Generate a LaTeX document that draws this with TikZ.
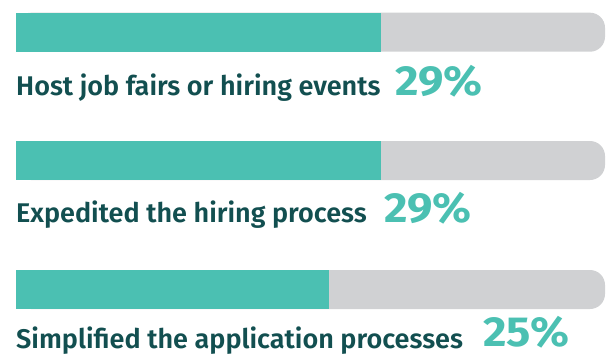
\documentclass[tikz,border=0pt]{standalone}
\usepackage{fontspec}
\setmainfont{Fira Sans}
\newfontfamily\labfont{Fira Sans SemiBold}
\newfontfamily\pctfont{Fira Sans Bold}[FakeStretch=1.08]
\definecolor{teal}{HTML}{4BC0B2}
\definecolor{barbg}{HTML}{D0D1D3}
\definecolor{darkteal}{HTML}{124F50}
\tikzset{
  bgbar/.style={fill=barbg, rounded corners=15pt},
  fgbar/.style={fill=teal},
  lab/.style={inner sep=0pt, anchor=base west, text=darkteal, font=\labfont\fontsize{27}{32}\selectfont},
  pct/.style={inner sep=0pt, anchor=base west, text=teal, font=\pctfont\fontsize{42}{48}\selectfont},
}
\begin{document}
\begin{tikzpicture}[x=1pt,y=-1pt]
\useasboundingbox (0,0) rectangle (612,356);
% bar 1
\fill[bgbar] (16,12.7) rectangle (605,51.7);
\fill[fgbar] (16,12.7) rectangle (381,51.7);
\node[lab] (l1) at (16,95) {Host job fairs or hiring events};
\node[pct] (p1) at (395,95) {29\%};
% bar 2
\fill[bgbar] (16,141) rectangle (605,180);
\fill[fgbar] (16,141) rectangle (381,180);
\node[lab] (l2) at (16,222) {Expedited the hiring process};
\node[pct] (p2) at (384,222) {29\%};
% bar 3
\fill[bgbar] (16,270) rectangle (605,309);
\fill[fgbar] (16,270) rectangle (329,309);
\node[lab] (l3) at (16,348) {Simplified the application processes};
\node[pct] (p3) at (483,346) {25\%};
\end{tikzpicture}
\end{document}
